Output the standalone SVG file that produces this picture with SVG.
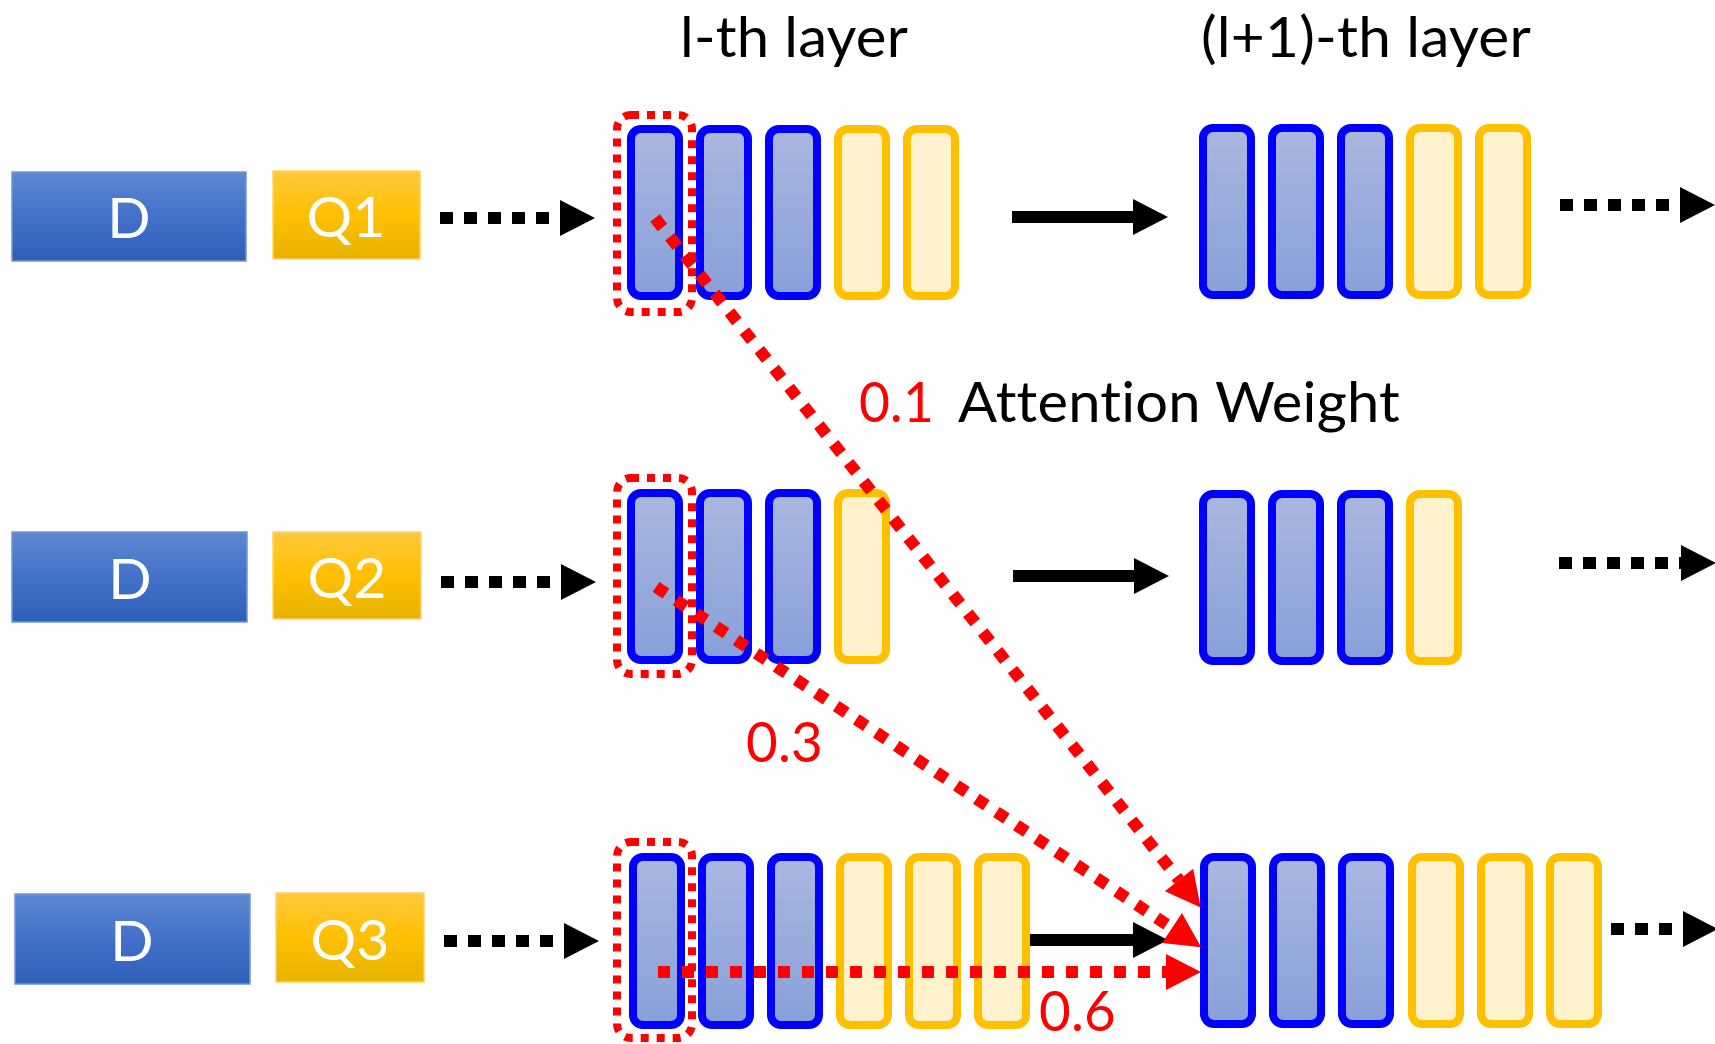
<svg xmlns="http://www.w3.org/2000/svg" width="1715" height="1044" viewBox="0 0 1715 1044">
<defs>
<linearGradient id="gD" x1="0" y1="0" x2="0" y2="1">
<stop offset="0" stop-color="#5F87D2"/><stop offset="0.5" stop-color="#4371C9"/><stop offset="1" stop-color="#2E5FB8"/>
</linearGradient>
<linearGradient id="gQ" x1="0" y1="0" x2="0" y2="1">
<stop offset="0" stop-color="#FFC940"/><stop offset="0.5" stop-color="#FFC000"/><stop offset="1" stop-color="#E6B300"/>
</linearGradient>
<linearGradient id="gB" x1="0" y1="0" x2="0" y2="1">
<stop offset="0" stop-color="#AAB7E0"/><stop offset="1" stop-color="#889FD8"/>
</linearGradient>
<marker id="aK" markerUnits="userSpaceOnUse" markerWidth="36" markerHeight="36" refX="0" refY="18" orient="auto" overflow="visible">
<path d="M0,0 L35,18 L0,36 Z" fill="#000"/>
</marker>
<marker id="aR" markerUnits="userSpaceOnUse" markerWidth="36" markerHeight="36" refX="0" refY="18" orient="auto" overflow="visible">
<path d="M0,0 L35,18 L0,36 Z" fill="#FF0000"/>
</marker>
<style>
text{font-variant-ligatures:none;font-feature-settings:"liga" 0,"dlig" 0,"clig" 0;letter-spacing:0.2px}
.d{fill:url(#gD);stroke:#7297D9;stroke-width:1.5}
.q{fill:url(#gQ);stroke:#FFD266;stroke-width:1.5}
.bt{fill:#fff;font-family:Lato,"Liberation Sans",sans-serif;font-size:57px;text-anchor:middle}
.b{fill:url(#gB);stroke:#0000FF;stroke-width:8}
.y{fill:#FFF2CC;stroke:#FFC000;stroke-width:8}
.sel{fill:none;stroke:#FF0000;stroke-width:8;stroke-dasharray:8 8}
.t{font-family:Lato,"Liberation Sans",sans-serif;font-size:57px;fill:#000}
.r{fill:#FF0000}
.dk{stroke:#000;stroke-width:12;stroke-dasharray:13 11;fill:none}
.sk{stroke:#000;stroke-width:12;fill:none}
.dr{stroke:#FF0000;stroke-width:12;stroke-dasharray:12 12;fill:none}
</style>
</defs>
<rect width="1715" height="1044" fill="#fff"/>

<g id="labels">
<text class="t" x="680" y="57" textLength="228" lengthAdjust="spacingAndGlyphs">l-th layer</text>
<text class="t" x="1201" y="57" textLength="330" lengthAdjust="spacingAndGlyphs">(l+1)-th layer</text>
<text class="t r" x="859" y="422" textLength="75" lengthAdjust="spacingAndGlyphs">0.1</text>
<text class="t" x="958" y="422" textLength="442" lengthAdjust="spacingAndGlyphs">Attention Weight</text>
<text class="t r" x="746" y="762" textLength="77" lengthAdjust="spacingAndGlyphs">0.3</text>
<text class="t r" x="1039" y="1031" textLength="77" lengthAdjust="spacingAndGlyphs">0.6</text>
</g>

<g id="D1"><rect class="d" x="12" y="172" width="234" height="89"/><text class="bt" x="129" y="238">D</text></g>
<g id="Q1"><rect class="q" x="273" y="171" width="147" height="88"/><text class="bt" x="346" y="237">Q1</text></g>
<g id="D2"><rect class="d" x="12" y="532" width="235" height="90"/><text class="bt" x="130" y="599">D</text></g>
<g id="Q2"><rect class="q" x="273" y="532" width="148" height="87"/><text class="bt" x="347" y="598">Q2</text></g>
<g id="D3"><rect class="d" x="15" y="894" width="235" height="90"/><text class="bt" x="132" y="961">D</text></g>
<g id="Q3"><rect class="q" x="276" y="893" width="148" height="89"/><text class="bt" x="350" y="960">Q3</text></g>

<g id="layer-l-Q1">
<rect class="b" x="631" y="129" width="48" height="167" rx="10"/>
<rect class="b" x="700" y="129" width="48" height="167" rx="10"/>
<rect class="b" x="769" y="129" width="48" height="167" rx="10"/>
<rect class="y" x="838" y="129" width="48" height="167" rx="10"/>
<rect class="y" x="907" y="129" width="48" height="167" rx="10"/>
<rect class="sel" x="617" y="115" width="75" height="197" rx="14"/>
</g>
<g id="layer-l1-Q1">
<rect class="b" x="1203" y="128" width="48" height="167" rx="10"/>
<rect class="b" x="1272" y="128" width="48" height="167" rx="10"/>
<rect class="b" x="1341" y="128" width="48" height="167" rx="10"/>
<rect class="y" x="1410" y="128" width="48" height="167" rx="10"/>
<rect class="y" x="1479" y="128" width="48" height="167" rx="10"/>
</g>
<g id="layer-l-Q2">
<rect class="b" x="631" y="493" width="48" height="167" rx="10"/>
<rect class="b" x="700" y="493" width="48" height="167" rx="10"/>
<rect class="b" x="769" y="493" width="48" height="167" rx="10"/>
<rect class="y" x="838" y="493" width="48" height="167" rx="10"/>
<rect class="sel" x="617" y="478" width="75" height="196" rx="14"/>
</g>
<g id="layer-l1-Q2">
<rect class="b" x="1203" y="494" width="48" height="167" rx="10"/>
<rect class="b" x="1272" y="494" width="48" height="167" rx="10"/>
<rect class="b" x="1341" y="494" width="48" height="167" rx="10"/>
<rect class="y" x="1410" y="494" width="48" height="167" rx="10"/>
</g>
<g id="layer-l-Q3">
<rect class="b" x="633" y="857" width="48" height="168" rx="10"/>
<rect class="b" x="702" y="857" width="48" height="168" rx="10"/>
<rect class="b" x="771" y="857" width="48" height="168" rx="10"/>
<rect class="y" x="840" y="857" width="48" height="168" rx="10"/>
<rect class="y" x="909" y="857" width="48" height="168" rx="10"/>
<rect class="y" x="978" y="857" width="48" height="168" rx="10"/>
<rect class="sel" x="617" y="842" width="75" height="196" rx="14"/>
</g>
<g id="layer-l1-Q3">
<rect class="b" x="1204" y="857" width="48" height="167" rx="10"/>
<rect class="b" x="1273" y="857" width="48" height="167" rx="10"/>
<rect class="b" x="1342" y="857" width="48" height="167" rx="10"/>
<rect class="y" x="1412" y="857" width="48" height="167" rx="10"/>
<rect class="y" x="1481" y="857" width="48" height="167" rx="10"/>
<rect class="y" x="1550" y="857" width="48" height="167" rx="10"/>
</g>

<g id="connectors">
<line class="dk" x1="440" y1="218" x2="560" y2="218" marker-end="url(#aK)"/>
<line class="dk" x1="441" y1="582" x2="561" y2="582" marker-end="url(#aK)"/>
<line class="dk" x1="444" y1="941" x2="564" y2="941" marker-end="url(#aK)"/>
<line class="sk" x1="1012" y1="217" x2="1133" y2="217" marker-end="url(#aK)"/>
<line class="sk" x1="1013" y1="576" x2="1134" y2="576" marker-end="url(#aK)"/>
<line class="sk" x1="1030" y1="940" x2="1133" y2="940" marker-end="url(#aK)"/>
<line class="dk" x1="1560" y1="205" x2="1680" y2="205" marker-end="url(#aK)"/>
<line class="dk" x1="1559" y1="563" x2="1681" y2="563" marker-end="url(#aK)"/>
<line class="dk" x1="1611" y1="929" x2="1683" y2="929" marker-end="url(#aK)"/>
<line class="dr" x1="655" y1="218" x2="1179" y2="880" marker-end="url(#aR)"/>
<line class="dr" x1="656" y1="587" x2="1172" y2="928" marker-end="url(#aR)"/>
<line class="dr" x1="658" y1="972" x2="1166" y2="972" marker-end="url(#aR)"/>
</g>
</svg>
